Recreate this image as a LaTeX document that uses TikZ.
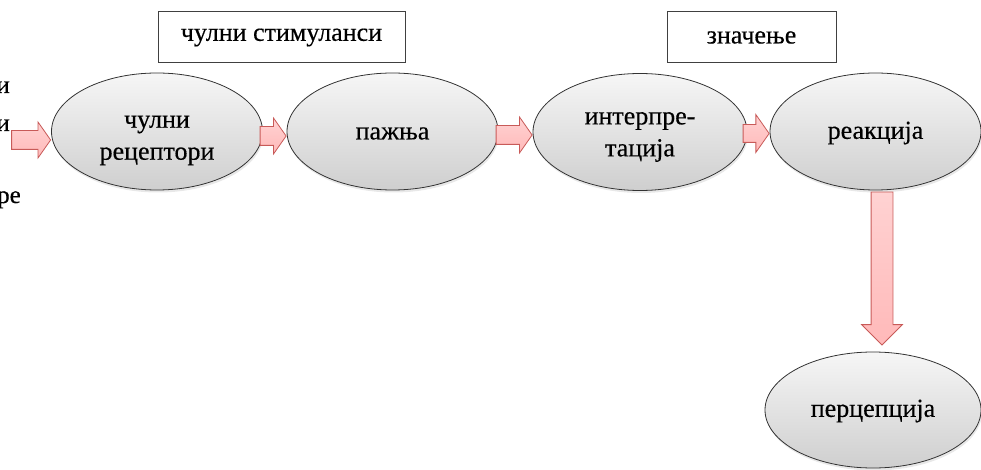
\documentclass[tikz,border=0pt]{standalone}
\usepackage{fontspec}
\setmainfont{Liberation Serif}
\newfontfamily\tnr[FakeBold=0.4]{Liberation Serif}
\usetikzlibrary{shapes.geometric,shapes.arrows,calc,shadows}
\definecolor{arrowline}{RGB}{200,90,88}
\definecolor{arrowfill}{RGB}{255,185,185}
\definecolor{arrowfilltop}{RGB}{255,210,210}
\begin{document}
\begin{tikzpicture}[x=1pt,y=-1pt,
  ell/.style={ellipse, draw=black!80, line width=0.8pt, inner sep=0pt,
    top color=gray!7, bottom color=gray!38,
    minimum width=211pt, minimum height=117pt,
    drop shadow={opacity=0.18, shadow xshift=1pt, shadow yshift=-2.5pt}},
  elltext/.style={inner sep=0pt, align=center, font=\tnr\fontsize{26}{32}\selectfont},
  labelbox/.style={draw=black!75, line width=1pt, fill=white, inner sep=0pt,
    minimum height=51pt, font=\tnr\fontsize{26}{31}\selectfont},
  barrow/.style={single arrow, draw=arrowline, line width=0.8pt,
    inner xsep=0pt, inner ysep=9pt,
    top color=arrowfilltop, bottom color=arrowfill,
    single arrow head extend=8.5pt, single arrow tip angle=110},
  cut/.style={inner sep=0pt, font=\tnr\fontsize{25}{30}\selectfont}]
\useasboundingbox (0,0) rectangle (981,470);

% clipped text at left edge
\node[cut, anchor=base east] (c1) at (10,93) {и};
\node[cut, anchor=base east] (c2) at (10,131) {и};
\node[cut, anchor=base east] (c3) at (21,203) {ре};

% label boxes
\node[labelbox, minimum width=247pt] (b1) at (281.5,37.5) {чулни стимуланси};
\node[labelbox, minimum width=169pt] (b2) at (751.5,37.5) {значење};

% ellipses
\node[ell, label={[elltext, yshift=-9pt]center:{чулни\\рецептори}}] (e1) at (157,131.5) {};
\node[ell, label={[elltext, yshift=-2pt]center:{пажња}}] (e2) at (392.5,131.5) {};
\node[ell, minimum width=214pt, label={[elltext, yshift=-5pt]center:{интерпре-\\тација}}] (e3) at (640,132) {};
\node[ell, label={[elltext, yshift=-1.5pt]center:{реакција}}] (e4) at (875.5,131.5) {};
\node[ell, minimum width=216pt, minimum height=116pt, label={[elltext, yshift=-1pt]center:{перцепција}}] (e5) at (873,410) {};

% block arrows
\node[barrow, minimum height=39pt, anchor=tip] (a01) at ($(e1.west)+(0,8.5)$) {};
\node[barrow, minimum height=26pt, anchor=tip] (a12) at ($(e2.west)+(0,4.5)$) {};
\node[barrow, minimum height=36pt, anchor=tip] (a23) at ($(e3.west)+(0,3)$) {};
\node[barrow, minimum height=26pt, anchor=tip, inner ysep=8.5pt, single arrow head extend=10pt] (a34) at ($(e4.west)+(0,2)$) {};
\node[barrow, rotate=-90, minimum height=153pt, inner ysep=10.5pt,
  single arrow head extend=9.5pt, single arrow tip angle=90,
  anchor=tip] (a45) at ($(e5.north)+(9,-6)$) {};
\end{tikzpicture}
\end{document}
